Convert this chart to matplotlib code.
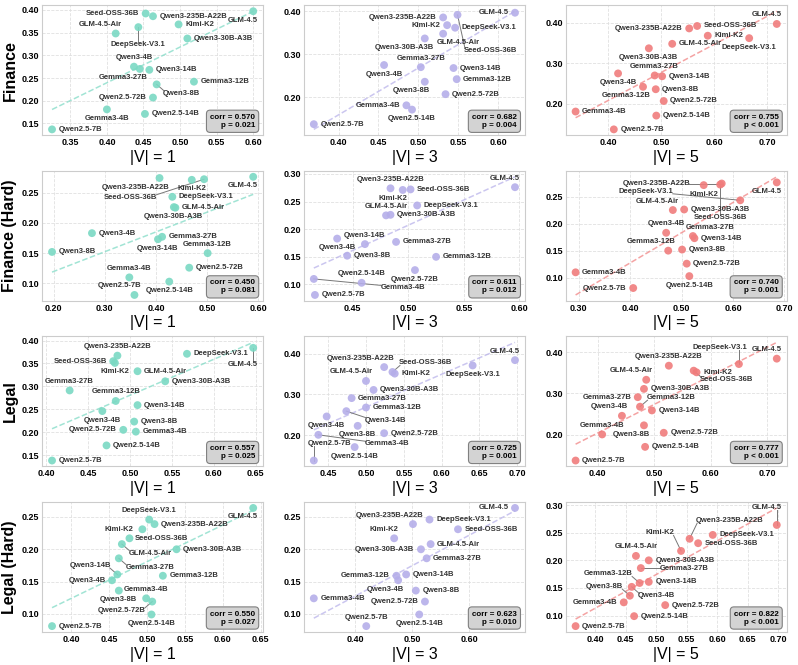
import numpy as np
import matplotlib.pyplot as plt
from matplotlib.ticker import MultipleLocator, FormatStrFormatter

plt.rcParams['font.family'] = ['Liberation Sans', 'DejaVu Sans']
plt.rcParams['font.weight'] = 'bold'

models = ['GLM-4.5', 'Seed-OSS-36B', 'Qwen3-235B-A22B', 'Kimi-K2', 'DeepSeek-V3.1',
          'GLM-4.5-Air', 'Qwen3-30B-A3B', 'Qwen3-4B', 'Gemma3-27B', 'Qwen3-14B',
          'Gemma3-12B', 'Qwen3-8B', 'Qwen2.5-72B', 'Gemma3-4B', 'Qwen2.5-14B', 'Qwen2.5-7B']

# accuracy per domain (y axis), same order as models
finance_acc = [0.397, 0.392, 0.386, 0.368, 0.362, 0.348, 0.337, 0.275, 0.270, 0.268,
               0.242, 0.236, 0.207, 0.181, 0.171, 0.137]
finance_hard_acc = [0.276, 0.272, 0.274, 0.271, 0.243, 0.225, 0.226, 0.183, 0.177, 0.173,
                    0.150, 0.152, 0.126, 0.110, 0.103, 0.081]
legal_acc = [0.384, 0.355, 0.367, 0.351, 0.371, 0.333, 0.311, 0.246, 0.291, 0.259,
             0.268, 0.223, 0.205, 0.201, 0.171, 0.138]
legal_hard_acc = [0.264, 0.231, 0.239, 0.217, 0.246, 0.208, 0.200, 0.152, 0.186, 0.161,
                  0.159, 0.136, 0.119, 0.124, 0.099, 0.081]

# scores for |V| = 1, 3, 5 (x axis)
finance_v1 = [0.600, 0.453, 0.463, 0.498, 0.443, 0.412, 0.510, 0.437, 0.445, 0.458,
              0.519, 0.468, 0.463, 0.400, 0.452, 0.325]
finance_v3 = [0.621, 0.549, 0.531, 0.536, 0.546, 0.531, 0.508, 0.457, 0.503, 0.544,
              0.548, 0.508, 0.534, 0.485, 0.492, 0.369]
finance_v5 = [0.718, 0.568, 0.553, 0.588, 0.666, 0.521, 0.477, 0.419, 0.488, 0.502,
              0.466, 0.490, 0.505, 0.339, 0.491, 0.411]
finance_hard_v1 = [0.590, 0.494, 0.407, 0.470, 0.432, 0.438, 0.435, 0.275, 0.412, 0.404,
                   0.501, 0.197, 0.465, 0.348, 0.426, 0.358]
finance_hard_v3 = [0.596, 0.502, 0.484, 0.495, 0.508, 0.480, 0.484, 0.436, 0.489, 0.461,
                   0.525, 0.445, 0.506, 0.415, 0.458, 0.416]
finance_hard_v5 = [0.685, 0.575, 0.578, 0.543, 0.614, 0.483, 0.505, 0.470, 0.522, 0.525,
                   0.474, 0.501, 0.510, 0.294, 0.515, 0.406]
legal_v1 = [0.647, 0.480, 0.485, 0.482, 0.568, 0.509, 0.542, 0.467, 0.428, 0.509,
            0.483, 0.505, 0.492, 0.507, 0.472, 0.407]
legal_v3 = [0.697, 0.535, 0.524, 0.538, 0.641, 0.500, 0.510, 0.448, 0.481, 0.474,
            0.500, 0.489, 0.524, 0.437, 0.485, 0.431]
legal_v5 = [0.717, 0.570, 0.526, 0.575, 0.650, 0.486, 0.482, 0.443, 0.471, 0.496,
            0.475, 0.482, 0.517, 0.408, 0.484, 0.361]
legal_hard_v1 = [0.640, 0.494, 0.510, 0.477, 0.503, 0.467, 0.539, 0.454, 0.463, 0.461,
                 0.521, 0.463, 0.507, 0.499, 0.506, 0.375]
legal_hard_v3 = [0.680, 0.580, 0.501, 0.468, 0.530, 0.532, 0.515, 0.475, 0.525, 0.489,
                 0.472, 0.506, 0.522, 0.327, 0.512, 0.419]
legal_hard_v5 = [0.698, 0.569, 0.555, 0.541, 0.593, 0.467, 0.488, 0.460, 0.475, 0.488,
                 0.473, 0.457, 0.515, 0.447, 0.464, 0.368]

row_names = ['Finance', 'Finance (Hard)', 'Legal', 'Legal (Hard)']
v_sizes = [1, 3, 5]
acc_rows = [finance_acc, finance_hard_acc, legal_acc, legal_hard_acc]
x_rows = [[finance_v1, finance_v3, finance_v5],
          [finance_hard_v1, finance_hard_v3, finance_hard_v5],
          [legal_v1, legal_v3, legal_v5],
          [legal_hard_v1, legal_hard_v3, legal_hard_v5]]
corr_vals = [[0.570, 0.682, 0.755], [0.450, 0.611, 0.740],
             [0.557, 0.725, 0.777], [0.550, 0.623, 0.822]]
p_texts = [['= 0.021', '= 0.004', '< 0.001'], ['= 0.081', '= 0.012', '= 0.001'],
           ['= 0.025', '= 0.001', '< 0.001'], ['= 0.027', '= 0.010', '< 0.001']]

colors = ['#7ad9c3', '#b5aee9', '#f07c7c']
x_steps = [[0.05, 0.05, 0.1], [0.1, 0.05, 0.1], [0.05, 0.05, 0.1], [0.05, 0.1, 0.05]]
y_steps = [[0.05, 0.1, 0.1], [0.05, 0.05, 0.05], [0.05, 0.1, 0.1], [0.05, 0.05, 0.05]]

LABEL_SIZE = 5.5


def overlap(a, b):
    w = min(a[2], b[2]) - max(a[0], b[0])
    h = min(a[3], b[3]) - max(a[1], b[1])
    if w <= 0 or h <= 0:
        return 0.0
    return w * h


def place_labels(ax, xs, ys, names, renderer, avoid):
    # greedy label placement, a poor man's adjustText
    pts = ax.transData.transform(np.column_stack([xs, ys]))
    ab = ax.get_window_extent(renderer)
    frame = (ab.x0 + 2, ab.y0 + 2, ab.x1 - 2, ab.y1 - 2)
    r = 4.5
    pt_boxes = [(px - r, py - r, px + r, py + r) for px, py in pts]
    sizes = []
    for name in names:
        t = ax.text(0, 0, name, fontsize=LABEL_SIZE)
        bb = t.get_window_extent(renderer)
        sizes.append((bb.width, bb.height))
        t.remove()
    d = np.hypot(pts[:, None, 0] - pts[None, :, 0], pts[:, None, 1] - pts[None, :, 1])
    order = np.argsort(-(d < 40).sum(axis=1), kind='stable')
    placed = list(avoid)
    inv = ax.transData.inverted()
    for i in order:
        px, py = pts[i]
        w, h = sizes[i]
        cands = []
        for dy in [0, 9, -9, 18, -18, 27, -27, 36, -36]:
            for dx in [0, 12, 25, 40, 60]:
                cands.append((px + r + 2 + dx, py - h / 2 + dy))
                cands.append((px - r - 2 - dx - w, py - h / 2 + dy))
        for k in [0, 8, 16, 24]:
            for sx in [-w / 2, -w * 0.15, -w * 0.85]:
                cands.append((px + sx, py + r + 1 + k))
                cands.append((px + sx, py - r - 1 - k - h))
        best, best_cost = None, None
        for x0, y0 in cands:
            b = (x0, y0, x0 + w, y0 + h)
            cost = 0.0
            for pb in placed:
                cost += 10 * overlap(b, pb)
            for j, pb in enumerate(pt_boxes):
                cost += (20 if j == i else 10) * overlap(b, pb)
            cost += 30 * (w * h - overlap(b, frame))
            cx = min(max(px, b[0]), b[2])
            cy = min(max(py, b[1]), b[3])
            cost += 0.8 * np.hypot(cx - px, cy - py)
            if x0 < px:
                cost += 2
            if best_cost is None or cost < best_cost:
                best, best_cost = b, cost
        placed.append(best)
        x0, y0, x1, y1 = best
        tx, ty = inv.transform((x0, y0))
        ax.text(tx, ty, names[i], fontsize=LABEL_SIZE, ha='left', va='bottom',
                color='#333333', zorder=4)
        cx = min(max(px, x0 + 1), x1 - 1)
        cy = min(max(py, y0 + 1), y1 - 1)
        if np.hypot(cx - px, cy - py) > r + 5:
            seg = inv.transform([(px, py), (cx, cy)])
            ax.plot(seg[:, 0], seg[:, 1], color='#777777', lw=0.7, zorder=2)


fig, axes = plt.subplots(4, 3, figsize=(7.98, 6.65), dpi=100)
fig.subplots_adjust(left=0.0526, right=0.986, top=0.992, bottom=0.0496,
                    wspace=0.183, hspace=0.274)
renderer = fig.canvas.get_renderer()

for r_i in range(4):
    for c_i in range(3):
        ax = axes[r_i, c_i]
        xs = np.array(x_rows[r_i][c_i])
        ys = np.array(acc_rows[r_i])
        col = colors[c_i]

        ax.scatter(xs, ys, s=32, color=col, alpha=0.9, edgecolors='none', zorder=3)
        k, b = np.polyfit(xs, ys, 1)
        xl = np.array([xs.min(), xs.max()])
        ax.plot(xl, k * xl + b, linestyle='--', color=col, alpha=0.7, lw=1.1, zorder=1)

        ax.xaxis.set_major_locator(MultipleLocator(x_steps[r_i][c_i]))
        ax.yaxis.set_major_locator(MultipleLocator(y_steps[r_i][c_i]))
        ax.xaxis.set_major_formatter(FormatStrFormatter('%.2f'))
        ax.yaxis.set_major_formatter(FormatStrFormatter('%.2f'))
        ax.tick_params(labelsize=6.5, length=0, pad=2)
        ax.grid(True, color='#e0e0e0', linestyle='--', linewidth=0.6)
        ax.set_axisbelow(True)
        for sp in ax.spines.values():
            sp.set_color('#cccccc')
            sp.set_linewidth(0.8)

        ax.set_xlim(ax.get_xlim())
        ax.set_ylim(ax.get_ylim())

        ax.set_xlabel(f'|V| = {v_sizes[c_i]}', fontsize=11.5, fontweight='normal', labelpad=2)
        if c_i == 0:
            ax.set_ylabel(row_names[r_i], fontsize=11.5, fontweight='bold', labelpad=3)

        st = ax.text(0.963, 0.05, f'corr = {corr_vals[r_i][c_i]:.3f}\np {p_texts[r_i][c_i]}',
                     transform=ax.transAxes, ha='right', va='bottom', fontsize=5.8,
                     multialignment='right', zorder=5,
                     bbox=dict(boxstyle='round,pad=0.45', fc='#d3d3d3', ec='#808080', lw=0.8))
        sb = st.get_window_extent(renderer)
        avoid = [(sb.x0 - 6, sb.y0 - 6, sb.x1 + 6, sb.y1 + 6)]

        place_labels(ax, xs, ys, models, renderer, avoid)

fig.savefig('out.png', dpi=100)
